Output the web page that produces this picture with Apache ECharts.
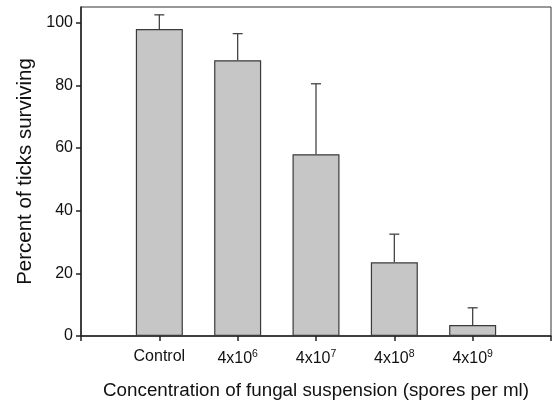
<!DOCTYPE html>
<html>
<head>
<meta charset="utf-8">
<script src="https://cdn.jsdelivr.net/npm/echarts@6/dist/echarts.min.js"></script>
<style>html,body{margin:0;padding:0;background:#fff}#c{width:554px;height:406px}</style>
</head>
<body>
<div id="c"></div>
<script>
// Data
var categories = ['Control', '4x10^6', '4x10^7', '4x10^8', '4x10^9'];
var survival = [98, 88, 58, 23.5, 3.5];        // percent of ticks surviving (bar height)
var errorUpper = [102.5, 96.5, 80.5, 32.5, 9];   // top of error bar
var yTicks = [0, 20, 40, 60, 80, 100];

// padded category axis: empty slot at each end
var axisCats = [''].concat(categories).concat(['']);
var barData = [null].concat(survival).concat([null]);
var errData = categories.map(function (c, i) { return [i + 1, survival[i], errorUpper[i]]; });

var FONT = 'Arial, "Liberation Sans", Helvetica, sans-serif';
var chart = echarts.init(document.getElementById('c'), null, {renderer: 'canvas'});
chart.setOption({
  backgroundColor: '#ffffff',
  animation: false,
  textStyle: {fontFamily: FONT, color: '#111'},
  grid: {left: 81, right: 3, top: 7, bottom: 70, show: true, borderColor: '#333', borderWidth: 1, containLabel: false},
  xAxis: {
    type: 'category',
    data: axisCats,
    boundaryGap: false,
    axisLine: {lineStyle: {color: '#222', width: 1.5}},
    axisTick: {show: true, interval: 0, length: 5, lineStyle: {color: '#222', width: 1.5}},
    axisLabel: {
      interval: 0, margin: 13, fontSize: 16, color: '#111', fontFamily: FONT,
      formatter: function (v) {
        var p = v.split('^');
        return p.length > 1 ? p[0] + '{sup|' + p[1] + '}' : v;
      },
      rich: {sup: {fontSize: 10.5, verticalAlign: 'top', padding: [0, 0, 8, 0], fontFamily: FONT, color: '#111'}}
    },
    splitLine: {show: false},
    name: 'Concentration of fungal suspension (spores per ml)',
    nameLocation: 'middle',
    nameGap: 45,
    nameTextStyle: {fontSize: 18.8, color: '#111', fontFamily: FONT}
  },
  yAxis: {
    type: 'value',
    min: 0, max: 105, interval: 20,
    axisLine: {show: true, lineStyle: {color: '#222', width: 1.5}},
    axisTick: {show: true, length: 5, customValues: yTicks, lineStyle: {color: '#222', width: 1.5}},
    axisLabel: {margin: 8, fontSize: 16, color: '#111', fontFamily: FONT, customValues: yTicks},
    splitLine: {show: false},
    name: 'Percent of ticks surviving',
    nameLocation: 'middle',
    nameGap: 43,
    nameRotate: 90,
    nameTextStyle: {fontSize: 20.5, color: '#111', fontFamily: FONT}
  },
  series: [
    {
      type: 'bar',
      data: barData,
      barWidth: 47,
      itemStyle: {color: '#c6c6c6', borderColor: '#3a3a3a', borderWidth: 1.2},
      z: 2
    },
    {
      type: 'custom',
      data: errData,
      encode: {x: 0, y: [1, 2]},
      z: 3,
      renderItem: function (params, api) {
        var x = api.value(0);
        var lo = api.coord([x, api.value(1)]);
        var hi = api.coord([x, api.value(2)]);
        var cap = 5;
        var st = {stroke: '#444', lineWidth: 1.3};
        return {
          type: 'group',
          children: [
            {type: 'line', shape: {x1: lo[0], y1: lo[1], x2: hi[0], y2: hi[1]}, style: st},
            {type: 'line', shape: {x1: hi[0] - cap, y1: hi[1], x2: hi[0] + cap, y2: hi[1]}, style: st}
          ]
        };
      }
    }
  ]
});
</script>
</body>
</html>
